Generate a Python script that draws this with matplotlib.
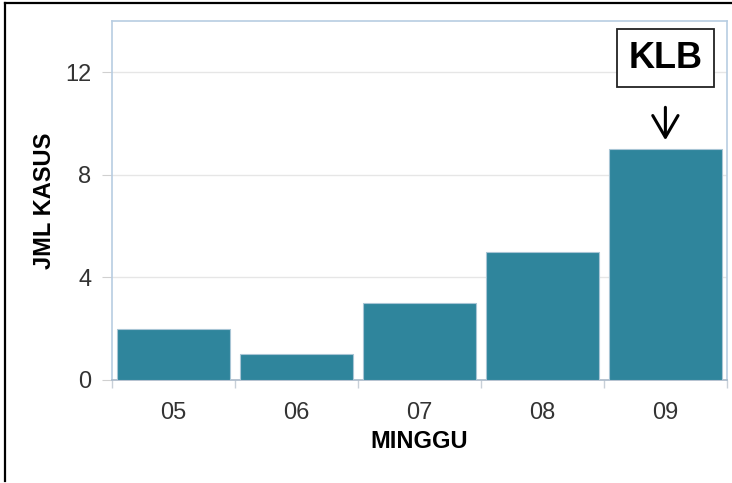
import matplotlib
matplotlib.use('Agg')
import matplotlib.pyplot as plt
from matplotlib.lines import Line2D

weeks = ['05', '06', '07', '08', '09']
cases = [2, 1, 3, 5, 9]
yticks = [0, 4, 8, 12]

plt.rcParams['font.family'] = ['Liberation Sans', 'DejaVu Sans']

fig = plt.figure(figsize=(7.32, 4.83), dpi=100)
ax = fig.add_axes([0.153, 0.2133, 0.84, 0.7432])

x = list(range(len(weeks)))
ax.bar(x, cases, width=0.92, color='#2F859C', edgecolor='#A8C5D5', linewidth=0.8, zorder=3)

ax.set_xlim(-0.5, len(weeks) - 0.5)
ax.set_ylim(0, 14)
ax.set_yticks(yticks)
ax.set_xticks(x)
ax.set_xticklabels(weeks)
ax.set_xticks([i - 0.5 for i in range(len(weeks) + 1)], minor=True)

ax.tick_params(axis='x', which='major', length=0, pad=16, labelsize=17, labelcolor='#333333')
ax.tick_params(axis='x', which='minor', length=6, color='#C8D0D8', width=1)
ax.tick_params(axis='y', length=7, color='#D0D0D0', pad=8, labelsize=17, labelcolor='#333333')

ax.grid(axis='y', color='#E6E6E6', linewidth=1, zorder=0)
for s in ax.spines.values():
    s.set_color('#B8CDE2')
    s.set_linewidth(1.2)
ax.spines['bottom'].set_color('#A9B8C8')

ax.set_xlabel('MINGGU', fontsize=17, fontweight='bold', va='center')
ax.xaxis.set_label_coords(0.5, -0.17)
ax.set_ylabel('JML KASUS', fontsize=17, fontweight='bold', va='center')
ax.yaxis.set_label_coords(-0.11, 0.5)

ax.annotate('KLB', xy=(4, 9.35), xytext=(4, 12.55), ha='center', va='center',
            fontsize=26, fontweight='bold',
            bbox=dict(boxstyle='square,pad=0.32', fc='white', ec='#222222', lw=1.3),
            arrowprops=dict(arrowstyle='->,head_length=0.6,head_width=0.35', color='black', lw=2.2,
                            shrinkA=14, shrinkB=0))

# outer frame (top and left only)
fig.add_artist(Line2D([0.0068, 1.0], [0.9938, 0.9938], color='black', lw=1.6, transform=fig.transFigure))
fig.add_artist(Line2D([0.0068, 0.0068], [0.004, 0.9938], color='black', lw=1.6, transform=fig.transFigure))

fig.savefig('out.png', dpi=100)
